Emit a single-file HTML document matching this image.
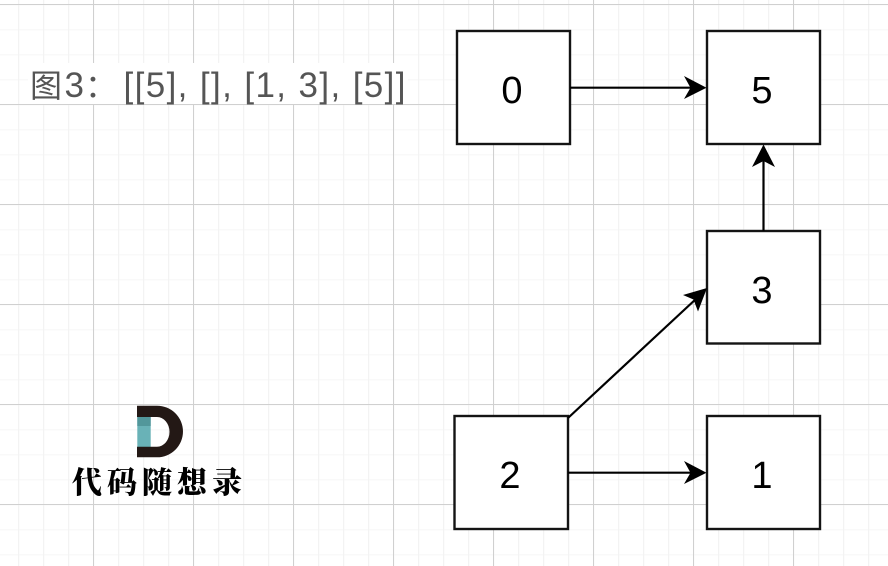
<!DOCTYPE html>
<html>
<head>
<meta charset="utf-8">
<style>
html,body{margin:0;padding:0;background:#fff;}
#c{position:relative;width:888px;height:566px;overflow:hidden;background:#fff;}
svg{position:absolute;left:0;top:0;}
</style>
</head>
<body>
<div id="c">
<svg width="888" height="566" viewBox="0 0 888 566" xmlns="http://www.w3.org/2000/svg">
  <defs>
    <pattern id="minor" x="18" y="4.5" width="25" height="25" patternUnits="userSpaceOnUse">
      <path d="M0.5 0V25M0 0H25" stroke="#f3f3f3" stroke-width="1.4" fill="none"/>
    </pattern>
  </defs>
  <rect width="888" height="566" fill="#fff"/>
  <rect width="888" height="566" fill="url(#minor)"/>
  <g stroke="#d0d0d0" stroke-width="1" fill="none">
    <path d="M93.5 0V566M193.5 0V566M293.5 0V566M393.5 0V566M493.5 0V566M593.5 0V566M693.5 0V566M793.5 0V566"/>
    <path d="M0 4.5H888M0 104.500H888M0 204.500H888M0 304.500H888M0 404.500H888M0 504.500H888"/>
  </g>

  <rect x="28" y="63" width="380" height="41" fill="#fff"/>
  <g font-family="'Liberation Sans','Noto Sans CJK SC',sans-serif" fill="#555">
    <text x="30" y="97" font-size="32">图</text>
    <text x="64.500" y="97" font-size="35">3</text>
    <text x="85" y="97" font-size="32">：</text>
    <text x="123.500" y="97" font-size="35" textLength="282" lengthAdjust="spacing">[[5], [], [1, 3], [5]]</text>
  </g>

  <g fill="#fff" stroke="#141414" stroke-width="2.400">
    <rect x="457" y="31" width="113" height="113"/>
    <rect x="707" y="31" width="113" height="113"/>
    <rect x="707" y="231" width="113" height="112.500"/>
    <rect x="454.500" y="416" width="113.500" height="113"/>
    <rect x="707" y="416" width="113" height="113"/>
  </g>

  <g font-family="'Liberation Sans',sans-serif" font-size="38" fill="#000" text-anchor="middle">
    <text x="512" y="103">0</text>
    <text x="762" y="103">5</text>
    <text x="762" y="303">3</text>
    <text x="510" y="488">2</text>
    <text x="762" y="488">1</text>
  </g>

  <g stroke="#000" stroke-width="2.200" fill="none">
    <path d="M570 87.700H695"/>
    <path d="M763.500 231V156"/>
    <path d="M568 418L697 298"/>
    <path d="M568 472.700H695"/>
  </g>
  <g fill="#000">
    <path d="M706.500 87.700L684 76L690.500 87.700L684 99Z"/>
    <path d="M763.500 144.500L752 167L763.500 161L775 167Z"/>
    <path d="M707 288L683 295L693.500 299.500L698 311.500Z"/>
    <path d="M706.500 472.700L684 461L690.500 472.700L684 484Z"/>
  </g>

  <rect x="137.300" y="417" width="13.400" height="30" fill="#69b2b7"/>
  <rect x="137.300" y="417" width="13.400" height="9" fill="#52979b"/>
  <path fill-rule="evenodd" fill="#231815" d="M137 405.700H157A26 25.800 0 0 1 157 457.300H137V446.700H157A12.500 14.850 0 0 0 157 417H137Z"/>
  <text x="72" y="493" font-family="'Noto Serif CJK SC','WenQuanYi Zen Hei',serif" font-weight="900" font-size="30" fill="#000" textLength="170" lengthAdjust="spacing">代码随想录</text>
</svg>
</div>
</body>
</html>
